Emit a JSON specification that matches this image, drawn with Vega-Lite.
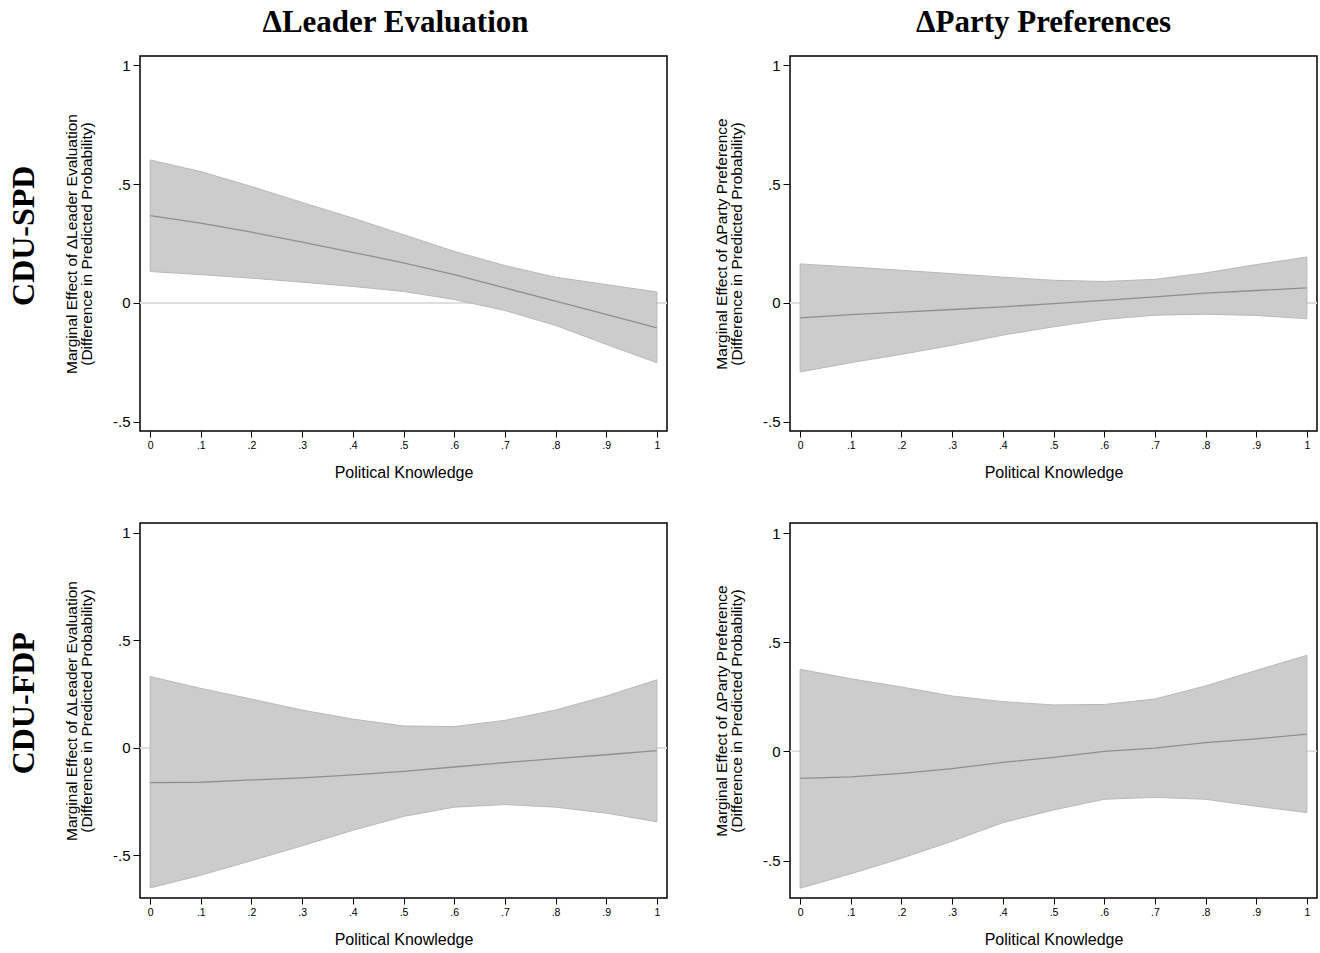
{
  "$schema": "https://vega.github.io/schema/vega-lite/v6.json",
  "background": "white",
  "padding": {"left": 8, "top": 6, "right": 0, "bottom": 0},
  "data": {"values": [
    {"p":"TL","x":0,"lo":0.132,"hi":0.602,"est":0.367},
    {"p":"TL","x":0.1,"lo":0.119,"hi":0.553,"est":0.336},
    {"p":"TL","x":0.2,"lo":0.104,"hi":0.490,"est":0.298},
    {"p":"TL","x":0.3,"lo":0.087,"hi":0.423,"est":0.256},
    {"p":"TL","x":0.4,"lo":0.069,"hi":0.357,"est":0.213},
    {"p":"TL","x":0.5,"lo":0.048,"hi":0.287,"est":0.168},
    {"p":"TL","x":0.6,"lo":0.014,"hi":0.217,"est":0.119},
    {"p":"TL","x":0.7,"lo":-0.032,"hi":0.157,"est":0.063},
    {"p":"TL","x":0.8,"lo":-0.095,"hi":0.108,"est":0.007},
    {"p":"TL","x":0.9,"lo":-0.175,"hi":0.077,"est":-0.049},
    {"p":"TL","x":1,"lo":-0.252,"hi":0.046,"est":-0.105},
    {"p":"TR","x":0,"lo":-0.291,"hi":0.164,"est":-0.063},
    {"p":"TR","x":0.1,"lo":-0.252,"hi":0.151,"est":-0.050},
    {"p":"TR","x":0.2,"lo":-0.217,"hi":0.137,"est":-0.039},
    {"p":"TR","x":0.3,"lo":-0.179,"hi":0.123,"est":-0.028},
    {"p":"TR","x":0.4,"lo":-0.136,"hi":0.108,"est":-0.017},
    {"p":"TR","x":0.5,"lo":-0.101,"hi":0.095,"est":-0.003},
    {"p":"TR","x":0.6,"lo":-0.070,"hi":0.090,"est":0.010},
    {"p":"TR","x":0.7,"lo":-0.052,"hi":0.099,"est":0.025},
    {"p":"TR","x":0.8,"lo":-0.048,"hi":0.126,"est":0.041},
    {"p":"TR","x":0.9,"lo":-0.053,"hi":0.161,"est":0.052},
    {"p":"TR","x":1,"lo":-0.067,"hi":0.193,"est":0.063},
    {"p":"BL","x":0,"lo":-0.653,"hi":0.331,"est":-0.163},
    {"p":"BL","x":0.1,"lo":-0.594,"hi":0.276,"est":-0.161},
    {"p":"BL","x":0.2,"lo":-0.526,"hi":0.226,"est":-0.150},
    {"p":"BL","x":0.3,"lo":-0.457,"hi":0.175,"est":-0.141},
    {"p":"BL","x":0.4,"lo":-0.385,"hi":0.133,"est":-0.127},
    {"p":"BL","x":0.5,"lo":-0.320,"hi":0.101,"est":-0.110},
    {"p":"BL","x":0.6,"lo":-0.277,"hi":0.098,"est":-0.090},
    {"p":"BL","x":0.7,"lo":-0.265,"hi":0.127,"est":-0.070},
    {"p":"BL","x":0.8,"lo":-0.277,"hi":0.175,"est":-0.051},
    {"p":"BL","x":0.9,"lo":-0.305,"hi":0.240,"est":-0.033},
    {"p":"BL","x":1,"lo":-0.345,"hi":0.316,"est":-0.014},
    {"p":"BR","x":0,"lo":-0.626,"hi":0.376,"est":-0.123},
    {"p":"BR","x":0.1,"lo":-0.560,"hi":0.333,"est":-0.116},
    {"p":"BR","x":0.2,"lo":-0.489,"hi":0.295,"est":-0.100},
    {"p":"BR","x":0.3,"lo":-0.411,"hi":0.254,"est":-0.079},
    {"p":"BR","x":0.4,"lo":-0.326,"hi":0.228,"est":-0.050},
    {"p":"BR","x":0.5,"lo":-0.268,"hi":0.213,"est":-0.027},
    {"p":"BR","x":0.6,"lo":-0.219,"hi":0.215,"est":0.000},
    {"p":"BR","x":0.7,"lo":-0.210,"hi":0.240,"est":0.015},
    {"p":"BR","x":0.8,"lo":-0.219,"hi":0.300,"est":0.040},
    {"p":"BR","x":0.9,"lo":-0.251,"hi":0.371,"est":0.058},
    {"p":"BR","x":1,"lo":-0.280,"hi":0.440,"est":0.079}
  ]},
  "config": {
    "view": {"stroke": "#000000", "strokeWidth": 1.5},
    "axis": {"grid": false, "domain": false, "labelFont": "Liberation Sans", "titleFont": "Liberation Sans", "labelColor": "#000", "titleColor": "#000", "tickColor": "#000", "titleFontWeight": "normal"},
    "axisX": {"labelFontSize": 10.5, "titleFontSize": 16, "tickSize": 6, "labelPadding": 3, "titlePadding": 14, "labelFlush": false},
    "axisY": {"labelFontSize": 15, "titleFontSize": 15.5, "titleLineHeight": 14.5, "tickSize": 7, "labelPadding": 3, "titlePadding": 18, "labelFlush": false},
    "title": {"font": "Liberation Serif", "fontWeight": "bold", "fontSize": 31, "color": "#000"}
  },
  "spacing": 40,
  "vconcat": [
    {
      "title": {"text": "CDU-SPD", "orient": "left", "anchor": "middle", "fontSize": 32, "offset": 23, "dx": 8},
      "spacing": 45,
      "hconcat": [
        {
          "title": {"text": "ΔLeader Evaluation", "frame": "group", "anchor": "middle", "dx": -8, "offset": 17},
          "width": 527, "height": 375,
          "transform": [{"filter": "datum.p == 'TL'"}],
          "layer": [
            {"mark": {"type": "rule", "color": "#dddddd", "strokeWidth": 1}, "encoding": {"y": {"datum": 0, "type": "quantitative", "scale": {"domain": [-0.54, 1.04], "nice": false, "zero": false}}}},
            {"mark": {"type": "area", "color": "#cccccc", "opacity": 1, "stroke": "#b8b8b8", "strokeWidth": 1},
             "encoding": {
               "x": {"field": "x", "type": "quantitative", "scale": {"domain": [-0.02, 1.02], "nice": false}, "axis": {"title": "Political Knowledge", "values": [0,0.1,0.2,0.3,0.4,0.5,0.6,0.7,0.8,0.9,1], "labelExpr": "replace(toString(datum.value),'0.','.')"}},
               "y": {"field": "lo", "type": "quantitative", "axis": {"title": ["Marginal Effect of ΔLeader Evaluation", "(Difference in Predicted Probability)"], "values": [-0.5,0,0.5,1], "labelExpr": "replace(toString(datum.value),'0.','.')"}},
               "y2": {"field": "hi"}}},
            {"mark": {"type": "line", "color": "#8f8f8f", "strokeWidth": 1.3}, "encoding": {"x": {"field": "x", "type": "quantitative"}, "y": {"field": "est", "type": "quantitative"}}}
          ]
        },
        {
          "title": {"text": "ΔParty Preferences", "frame": "group", "anchor": "middle", "dx": -10, "offset": 17},
          "width": 527, "height": 375,
          "transform": [{"filter": "datum.p == 'TR'"}],
          "layer": [
            {"mark": {"type": "rule", "color": "#dddddd", "strokeWidth": 1}, "encoding": {"y": {"datum": 0, "type": "quantitative", "scale": {"domain": [-0.54, 1.04], "nice": false, "zero": false}}}},
            {"mark": {"type": "area", "color": "#cccccc", "opacity": 1, "stroke": "#b8b8b8", "strokeWidth": 1},
             "encoding": {
               "x": {"field": "x", "type": "quantitative", "scale": {"domain": [-0.02, 1.02], "nice": false}, "axis": {"title": "Political Knowledge", "values": [0,0.1,0.2,0.3,0.4,0.5,0.6,0.7,0.8,0.9,1], "labelExpr": "replace(toString(datum.value),'0.','.')"}},
               "y": {"field": "lo", "type": "quantitative", "axis": {"title": ["Marginal Effect of ΔParty Preference", "(Difference in Predicted Probability)"], "values": [-0.5,0,0.5,1], "labelExpr": "replace(toString(datum.value),'0.','.')"}},
               "y2": {"field": "hi"}}},
            {"mark": {"type": "line", "color": "#8f8f8f", "strokeWidth": 1.3}, "encoding": {"x": {"field": "x", "type": "quantitative"}, "y": {"field": "est", "type": "quantitative"}}}
          ]
        }
      ]
    },
    {
      "title": {"text": "CDU-FDP", "orient": "left", "anchor": "middle", "fontSize": 32, "offset": 23, "dx": 32},
      "spacing": 45,
      "hconcat": [
        {
          "width": 527, "height": 375,
          "transform": [{"filter": "datum.p == 'BL'"}],
          "layer": [
            {"mark": {"type": "rule", "color": "#dddddd", "strokeWidth": 1}, "encoding": {"y": {"datum": 0, "type": "quantitative", "scale": {"domain": [-0.70, 1.046], "nice": false, "zero": false}}}},
            {"mark": {"type": "area", "color": "#cccccc", "opacity": 1, "stroke": "#b8b8b8", "strokeWidth": 1},
             "encoding": {
               "x": {"field": "x", "type": "quantitative", "scale": {"domain": [-0.02, 1.02], "nice": false}, "axis": {"title": "Political Knowledge", "values": [0,0.1,0.2,0.3,0.4,0.5,0.6,0.7,0.8,0.9,1], "labelExpr": "replace(toString(datum.value),'0.','.')"}},
               "y": {"field": "lo", "type": "quantitative", "axis": {"title": ["Marginal Effect of ΔLeader Evaluation", "(Difference in Predicted Probability)"], "values": [-0.5,0,0.5,1], "labelExpr": "replace(toString(datum.value),'0.','.')"}},
               "y2": {"field": "hi"}}},
            {"mark": {"type": "line", "color": "#8f8f8f", "strokeWidth": 1.3}, "encoding": {"x": {"field": "x", "type": "quantitative"}, "y": {"field": "est", "type": "quantitative"}}}
          ]
        },
        {
          "width": 527, "height": 375,
          "transform": [{"filter": "datum.p == 'BR'"}],
          "layer": [
            {"mark": {"type": "rule", "color": "#dddddd", "strokeWidth": 1}, "encoding": {"y": {"datum": 0, "type": "quantitative", "scale": {"domain": [-0.671, 1.046], "nice": false, "zero": false}}}},
            {"mark": {"type": "area", "color": "#cccccc", "opacity": 1, "stroke": "#b8b8b8", "strokeWidth": 1},
             "encoding": {
               "x": {"field": "x", "type": "quantitative", "scale": {"domain": [-0.02, 1.02], "nice": false}, "axis": {"title": "Political Knowledge", "values": [0,0.1,0.2,0.3,0.4,0.5,0.6,0.7,0.8,0.9,1], "labelExpr": "replace(toString(datum.value),'0.','.')"}},
               "y": {"field": "lo", "type": "quantitative", "axis": {"title": ["Marginal Effect of ΔParty Preference", "(Difference in Predicted Probability)"], "values": [-0.5,0,0.5,1], "labelExpr": "replace(toString(datum.value),'0.','.')"}},
               "y2": {"field": "hi"}}},
            {"mark": {"type": "line", "color": "#8f8f8f", "strokeWidth": 1.3}, "encoding": {"x": {"field": "x", "type": "quantitative"}, "y": {"field": "est", "type": "quantitative"}}}
          ]
        }
      ]
    }
  ]
}
